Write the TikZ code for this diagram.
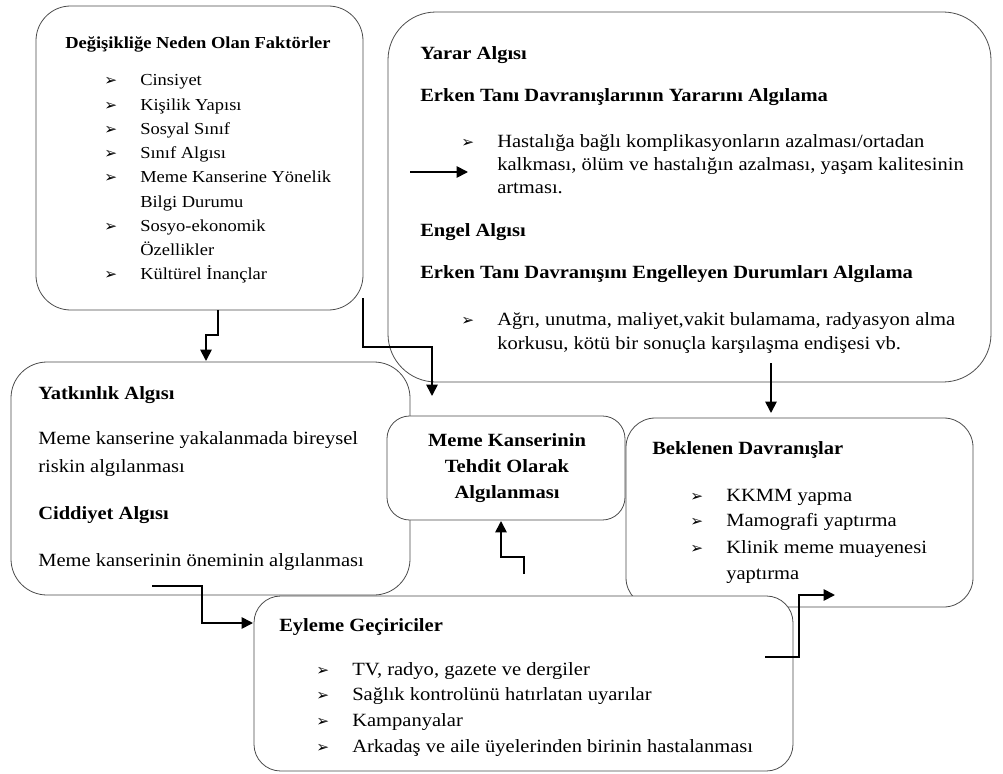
\documentclass[tikz,border=0pt]{standalone}
\usepackage{fontspec}
\setmainfont{Liberation Serif}[FakeStretch=1.1]
\newfontfamily\symfont{DejaVu Sans}
\usetikzlibrary{arrows.meta}
\newcommand{\blt}{\makebox[27pt][l]{\symfont\fontsize{11.5}{11.5}\selectfont ➢}}
\tikzset{
  box/.style={draw=black!70, line width=0.6pt, inner sep=0pt, outer sep=0pt},
  txt/.style={anchor=base west, inner sep=0pt, font=\fontsize{14}{16}\selectfont},
  hd/.style={txt, font=\fontsize{14}{16}\selectfont\bfseries},
  ftxt/.style={txt, font=\fontsize{12.6}{14}\selectfont},
  fhd/.style={txt, font=\fontsize{12.6}{14}\selectfont\bfseries},
  conn/.style={-{Triangle[length=8.5pt,width=8.5pt]}, black, line width=1.3pt}
}
\begin{document}
\begin{tikzpicture}[x=0.75pt,y=-0.75pt]
    \useasboundingbox (0,0) rectangle (1003,774);
    \fill[white] (0,0) rectangle (1003,774);

    % boxes
    \node[box, minimum width=245.25pt, minimum height=228pt, rounded corners=26pt] at (199.5,158) (fak){};
    \node[box, minimum width=452.25pt, minimum height=277.5pt, rounded corners=36pt] at (689.5,197) (yarar){};
    \node[box, minimum width=299.25pt, minimum height=174.75pt, rounded corners=27pt] at (210.5,478.5) (yatk){};
    \node[box, fill=white, minimum width=178.5pt, minimum height=78pt, rounded corners=17pt] at (506,468) (tehdit){};
    \node[box, minimum width=260.25pt, minimum height=141.75pt, rounded corners=22pt] at (799.5,512.5) (bekl){};
    \node[box, fill=white, minimum width=404.25pt, minimum height=131.25pt, rounded corners=20pt] at (523.5,683.5) (eylem){};

    % degisiklige neden olan faktorler
    \node[fhd] at (65,49) (f0){Değişikliğe Neden Olan Faktörler};
    \node[ftxt] at (104,86) (f1){\blt Cinsiyet};
    \node[ftxt] at (104,110.2) (f2){\blt Kişilik Yapısı};
    \node[ftxt] at (104,134.4) (f3){\blt Sosyal Sınıf};
    \node[ftxt] at (104,158.6) (f4){\blt Sınıf Algısı};
    \node[ftxt] at (104,182.8) (f5){\blt Meme Kanserine Yönelik};
    \node[ftxt] at (140,207) (f6){Bilgi Durumu};
    \node[ftxt] at (104,231.2) (f7){\blt Sosyo-ekonomik};
    \node[ftxt] at (140,255.4) (f8){Özellikler};
    \node[ftxt] at (104,279.6) (f9){\blt Kültürel İnançlar};

    % yarar / engel
    \node[hd] at (420,60) (y0){Yarar Algısı};
    \node[hd] at (420,102) (y1){Erken Tanı Davranışlarının Yararını Algılama};
    \node[txt] at (461,147) (y2){\blt Hastalığa bağlı komplikasyonların azalması/ortadan};
    \node[txt] at (497,170) (y3){kalkması, ölüm ve hastalığın azalması, yaşam kalitesinin};
    \node[txt] at (497,193) (y4){artması.};
    \node[hd] at (420,236) (y5){Engel Algısı};
    \node[hd] at (420,278) (y6){Erken Tanı Davranışını Engelleyen Durumları Algılama};
    \node[txt] at (461,325) (y7){\blt Ağrı, unutma, maliyet,vakit bulamama, radyasyon alma};
    \node[txt] at (497,349) (y8){korkusu, kötü bir sonuçla karşılaşma endişesi vb.};

    % yatkinlik / ciddiyet
    \node[hd] at (38,399) (k0){Yatkınlık Algısı};
    \node[txt] at (38,444) (k1){Meme kanserine yakalanmada bireysel};
    \node[txt] at (38,472) (k2){riskin algılanması};
    \node[hd] at (38,519) (k3){Ciddiyet Algısı};
    \node[txt] at (38,566) (k4){Meme kanserinin öneminin algılanması};

    % tehdit
    \node[hd, anchor=base] at (507,446) (t0){Meme Kanserinin};
    \node[hd, anchor=base] at (507,472) (t1){Tehdit Olarak};
    \node[hd, anchor=base] at (507,498) (t2){Algılanması};

    % beklenen davranislar
    \node[hd] at (652,454) (b0){Beklenen Davranışlar};
    \node[txt] at (690,501) (b1){\blt KKMM yapma};
    \node[txt] at (690,526) (b2){\blt Mamografi yaptırma};
    \node[txt] at (690,553) (b3){\blt Klinik meme muayenesi};
    \node[txt] at (726,579) (b4){yaptırma};

    % eyleme geciriciler
    \node[hd] at (279,631) (e0){Eyleme Geçiriciler};
    \node[txt] at (316,675) (e1){\blt TV, radyo, gazete ve dergiler};
    \node[txt] at (316,700) (e2){\blt Sağlık kontrolünü hatırlatan uyarılar};
    \node[txt] at (316,726) (e3){\blt Kampanyalar};
    \node[txt] at (316,752) (e4){\blt Arkadaş ve aile üyelerinden birinin hastalanması};

    % connector ends
    \coordinate (aS) at (218,310);
    \coordinate (aE) at (206,361);
    \coordinate (bS) at (363,298);
    \coordinate (bE) at (432,396);
    \coordinate (cS) at (410,172);
    \coordinate (cE) at (468,172);
    \coordinate (dS) at (771,363);
    \coordinate (dE) at (771,413);
    \coordinate (eS) at (524,574);
    \coordinate (eE) at (501,521);
    \coordinate (fS) at (152,586);
    \coordinate (fE) at (253,623);
    \coordinate (gS) at (765,657);
    \coordinate (gE) at (835,595);

    \draw[conn] (aS) -- ++(0,25) -| (aE); %fak-yatk
    \draw[conn] (bS) -- ++(0,49) -| (bE); %fak-tehdit
    \draw[conn] (cS) -- (cE); %-yarar
    \draw[conn] (dS) -- (dE); %yarar-bekl
    \draw[conn] (eS) -- ++(0,-17) -| (eE); %-tehdit
    \draw[conn] (fS) -- ++(50,0) |- (fE); %yatk-eylem
    \draw[conn] (gS) -- ++(34,0) |- (gE); %eylem-bekl
\end{tikzpicture}
\end{document}
